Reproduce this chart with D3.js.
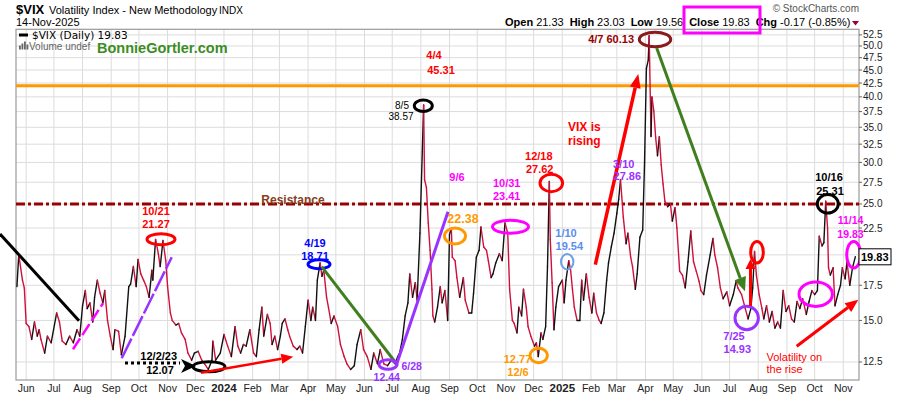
<!DOCTYPE html>
<html>
<head>
<meta charset="utf-8">
<script src="https://cdn.jsdelivr.net/npm/d3@7"></script>
<style>
  body { margin: 0; background: #fff; }
  svg { display: block; font-family: "Liberation Sans", Arial, sans-serif; }
</style>
</head>
<body>
<div id="chart"></div>
<script>
// daily closes, [mm-dd, close]
var vix2023 = [["05-22",17.4],["05-24",20.0],["05-28",17.9],["05-30",17.3],["06-01",14.8],["06-04",14.6],["06-07",13.8],["06-10",14.9],["06-13",14.0],["06-15",14.4],["06-17",13.8],["06-21",13.0],["06-24",14.0],["06-28",13.6],["07-04",15.5],["07-07",14.9],["07-10",13.7],["07-14",13.5],["07-18",14.0],["07-22",13.6],["07-26",14.4],["07-29",14.0],["08-01",16.0],["08-04",17.1],["08-06",15.8],["08-09",16.2],["08-12",14.9],["08-14",16.6],["08-17",17.9],["08-20",16.9],["08-23",16.2],["08-25",17.1],["08-28",15.0],["08-31",14.0],["09-03",13.2],["09-05",14.4],["09-09",14.3],["09-12",12.9],["09-16",14.0],["09-20",17.4],["09-22",17.6],["09-25",19.0],["09-28",17.4],["09-30",19.6],["10-03",18.4],["10-06",17.9],["10-09",17.4],["10-12",16.6],["10-15",18.7],["10-16",17.9],["10-19",21.4],["10-22",20.1],["10-24",19.0],["10-27",21.3],["10-30",19.5],["11-01",17.4],["11-04",15.5],["11-06",15.0],["11-10",14.7],["11-13",14.8],["11-16",14.2],["11-20",13.8],["11-23",13.0],["11-27",12.6],["11-30",13.0],["12-04",13.1],["12-08",12.6],["12-11",12.4],["12-15",12.1],["12-19",12.6],["12-20",13.7],["12-23",12.6],["12-28",13.0]];
var vix2024 = [["01-01",14.1],["01-05",13.4],["01-09",12.8],["01-13",14.6],["01-16",13.4],["01-19",13.0],["01-22",13.5],["01-25",13.4],["01-29",14.4],["02-02",13.0],["02-05",12.8],["02-08",14.4],["02-11",15.9],["02-13",14.0],["02-17",15.4],["02-20",14.8],["02-22",13.5],["02-25",14.0],["02-28",13.2],["03-02",14.0],["03-04",14.8],["03-07",15.1],["03-10",14.4],["03-12",14.0],["03-16",13.4],["03-20",13.2],["03-23",13.4],["03-26",13.0],["03-29",14.6],["04-01",16.4],["04-04",15.0],["04-06",15.9],["04-09",15.0],["04-11",17.9],["04-14",19.3],["04-16",18.2],["04-18",18.7],["04-21",16.6],["04-23",15.9],["04-26",14.8],["04-29",15.3],["05-03",14.6],["05-06",13.5],["05-10",12.8],["05-13",12.4],["05-17",12.1],["05-21",12.3],["05-24",13.5],["05-28",14.4],["05-31",13.2],["06-04",12.8],["06-08",12.1],["06-11",13.0],["06-15",12.4],["06-18",13.2],["06-22",12.4],["06-26",12.3],["06-30",12.6],["07-04",12.4],["07-07",12.8],["07-09",13.0],["07-12",13.8],["07-15",15.3],["07-18",16.2],["07-20",18.4],["07-23",16.6],["07-26",17.7],["07-28",16.4],["07-31",22.0],["08-04",38.6],["08-05",27.8],["08-07",26.9],["08-09",23.0],["08-11",20.4],["08-13",17.2],["08-14",15.3],["08-16",14.9],["08-19",15.9],["08-22",17.4],["08-24",16.2],["08-27",17.1],["08-30",15.0],["09-01",21.9],["09-03",22.4],["09-04",19.8],["09-07",19.5],["09-09",18.1],["09-12",16.6],["09-16",18.1],["09-18",16.4],["09-22",15.5],["09-25",15.5],["09-27",16.9],["09-30",19.8],["10-03",20.4],["10-05",22.6],["10-08",20.7],["10-11",20.4],["10-13",19.5],["10-16",18.1],["10-18",18.4],["10-21",19.3],["10-25",20.1],["10-28",19.5],["10-31",23.0],["11-03",22.0],["11-05",17.2],["11-08",15.0],["11-10",14.8],["11-13",14.2],["11-15",15.9],["11-18",15.3],["11-20",17.2],["11-23",15.9],["11-25",14.6],["11-28",14.0],["12-02",13.4],["12-04",13.6],["12-06",12.8],["12-09",14.2],["12-11",13.8],["12-14",14.6],["12-16",19.0],["12-18",27.6],["12-19",21.4],["12-21",17.7],["12-23",14.4],["12-25",15.9],["12-28",17.4]];
var vix2025 = [["01-01",17.9],["01-03",16.2],["01-05",17.9],["01-08",19.5],["01-10",18.7],["01-12",17.2],["01-14",15.9],["01-17",15.0],["01-20",15.0],["01-22",17.9],["01-24",16.4],["01-27",18.4],["01-30",16.6],["02-02",15.5],["02-04",16.9],["02-07",15.5],["02-10",15.0],["02-12",14.8],["02-15",15.5],["02-18",17.9],["02-20",19.3],["02-23",20.7],["02-26",22.0],["03-01",24.0],["03-03",25.5],["03-05",27.8],["03-08",23.6],["03-11",21.0],["03-13",22.0],["03-16",19.8],["03-18",19.0],["03-21",17.2],["03-23",18.4],["03-26",21.6],["03-29",22.3],["03-31",30.0],["04-02",45.3],["04-04",47.0],["04-05",52.3],["04-07",33.6],["04-08",40.0],["04-10",37.6],["04-12",33.5],["04-14",30.9],["04-16",33.6],["04-18",29.7],["04-20",27.3],["04-22",25.3],["04-25",24.7],["04-28",25.0],["04-30",23.2],["05-03",24.6],["05-05",22.5],["05-08",18.6],["05-11",18.3],["05-14",17.3],["05-17",19.4],["05-20",22.2],["05-23",19.4],["05-26",18.6],["05-29",17.8],["05-31",17.1],["06-03",16.8],["06-06",18.3],["06-10",20.0],["06-13",21.5],["06-15",20.0],["06-18",18.9],["06-21",17.3],["06-24",16.5],["06-28",17.0],["07-01",16.0],["07-05",16.8],["07-08",17.8],["07-10",17.3],["07-14",16.8],["07-18",15.8],["07-21",15.1],["07-24",15.8],["07-26",17.3],["07-28",20.3],["07-30",18.3],["08-02",16.8],["08-05",15.8],["08-07",15.1],["08-10",16.0],["08-13",14.9],["08-16",15.6],["08-19",14.5],["08-22",14.9],["08-25",14.5],["08-28",17.1],["08-31",15.6],["09-03",16.0],["09-06",15.1],["09-09",14.9],["09-12",16.3],["09-15",15.8],["09-18",16.5],["09-22",15.4],["09-25",16.3],["09-28",17.1],["10-01",16.8],["10-04",17.1],["10-06",21.7],["10-09",20.8],["10-11",21.1],["10-13",25.3],["10-15",22.5],["10-16",18.9],["10-18",18.3],["10-21",18.9],["10-23",16.0],["10-26",16.8],["10-29",17.5],["10-31",18.9],["11-03",18.0],["11-05",19.4],["11-08",17.5],["11-11",18.9],["11-14",19.83]];

var yTicks = [12.5,15,17.5,20,22.5,25,27.5,30,32.5,35,37.5,40,42.5,45,47.5,50,52.5];
var quote = [["Open","21.33"],["High","23.03"],["Low","19.56"],["Close","19.83"],["Chg","-0.17 (-0.85%)"]];
var resistanceLevel = 25, orangeLevel = 42, lastClose = 19.83;

var parse = d3.timeParse("%Y-%m-%d");
var data = [];
[[2023, vix2023], [2024, vix2024], [2025, vix2025]].forEach(function(yr) {
  yr[1].forEach(function(d) { data.push({date: parse(yr[0] + "-" + d[0]), value: d[1]}); });
});

var W = 900, H = 396;
var margin = {top: 29.3, right: 41, bottom: 16, left: 16};
var x0 = margin.left, x1 = W - margin.right, yTop = margin.top, yBot = H - margin.bottom;

var svg = d3.select("#chart").append("svg").attr("width", W).attr("height", H);
svg.append("rect").attr("width", W).attr("height", H).attr("fill", "#fff");

var x = d3.scaleTime()
  .domain([new Date(2023, 4, 21), new Date(2025, 10, 18)])
  .range([x0, x1]);
var y = d3.scaleLog()
  .domain([11.55, 53.8])
  .range([yBot, yTop]);

// grid
var months = d3.timeMonth.range(new Date(2023, 5, 1), new Date(2025, 10, 2));
svg.append("g").selectAll("line").data(months).enter().append("line")
  .attr("x1", function(d) { return x(d); }).attr("x2", function(d) { return x(d); })
  .attr("y1", yTop).attr("y2", yBot)
  .attr("stroke", "#dcdcdc").attr("stroke-width", 1);
svg.append("g").selectAll("line").data(yTicks).enter().append("line")
  .attr("x1", x0).attr("x2", x1)
  .attr("y1", function(d) { return y(d); }).attr("y2", function(d) { return y(d); })
  .attr("stroke", "#dcdcdc").attr("stroke-width", 1);

// frame
svg.append("rect").attr("x", x0).attr("y", yTop).attr("width", x1 - x0).attr("height", yBot - yTop)
  .attr("fill", "none").attr("stroke", "#9a9a9a").attr("stroke-width", 1.2);

// right axis (the 20.0 label sits under the last-value box, so it is not written)
var yAxis = svg.append("g").attr("transform", "translate(" + x1 + ",0)");
yTicks.forEach(function(t) {
  yAxis.append("line").attr("x1", 0).attr("x2", 3).attr("y1", y(t)).attr("y2", y(t)).attr("stroke", "#666");
  if (Math.abs(y(t) - y(lastClose)) < 10) return;
  yAxis.append("text").attr("x", 4).attr("y", y(t)).attr("dy", "0.35em")
    .attr("font-size", 10).attr("fill", "#222").text(d3.format(".1f")(t));
});

// bottom axis labels
svg.append("g").selectAll("text").data(months).enter().append("text")
  .attr("x", function(d) { return x(d); })
  .attr("y", 391.5)
  .attr("text-anchor", "middle")
  .attr("font-size", function(d) { return d.getMonth() == 0 ? 11.5 : 10.5; })
  .attr("font-weight", function(d) { return d.getMonth() == 0 ? "bold" : "normal"; })
  .attr("fill", "#222")
  .text(function(d) { return d.getMonth() == 0 ? d.getFullYear() : d3.timeFormat("%b")(d); });

// horizontal levels
svg.append("line").attr("x1", x0).attr("x2", x1).attr("y1", y(orangeLevel)).attr("y2", y(orangeLevel))
  .attr("stroke", "#ff9900").attr("stroke-width", 3);
svg.append("line").attr("x1", x0).attr("x2", x1).attr("y1", y(resistanceLevel)).attr("y2", y(resistanceLevel))
  .attr("stroke", "#990000").attr("stroke-width", 3).attr("stroke-dasharray", "9,3,3,3");

// price line: black on up days, red on down days
var segs = d3.pairs(data);
svg.append("g").selectAll("line").data(segs).enter().append("line")
  .attr("x1", function(d) { return x(d[0].date); })
  .attr("y1", function(d) { return y(d[0].value); })
  .attr("x2", function(d) { return x(d[1].date); })
  .attr("y2", function(d) { return y(d[1].value); })
  .attr("stroke", function(d) { return d[1].value >= d[0].value ? "#111" : "#d0103a"; })
  .attr("stroke-width", 1.4)
  .attr("stroke-linecap", "round");

// hand-drawn annotations
var ann = svg.append("g");

function line(a, b, c, d, col, w, dash) {
  ann.append("line").attr("x1", a).attr("y1", b).attr("x2", c).attr("y2", d)
    .attr("stroke", col).attr("stroke-width", w).attr("stroke-dasharray", dash || null);
}
function arrow(a, b, c, d, col, w, hl, hw) {
  var ang = Math.atan2(d - b, c - a);
  var bx = c - hl * Math.cos(ang), by = d - hl * Math.sin(ang);
  line(a, b, bx, by, col, w);
  var px = -Math.sin(ang) * hw / 2, py = Math.cos(ang) * hw / 2;
  ann.append("path").attr("d", "M" + c + "," + d + "L" + (bx + px) + "," + (by + py) + "L" + (bx - px) + "," + (by - py) + "Z")
    .attr("fill", col);
}
function ell(cx, cy, rx, ry, col, w) {
  ann.append("ellipse").attr("cx", cx).attr("cy", cy).attr("rx", rx).attr("ry", ry)
    .attr("fill", "none").attr("stroke", col).attr("stroke-width", w || 3);
}
function label(t, tx, ty, col, size, weight, anchor) {
  ann.append("text").attr("x", tx).attr("y", ty).attr("dy", "0.35em")
    .attr("text-anchor", anchor || "middle").attr("font-size", size || 11)
    .attr("font-weight", weight || "bold").attr("fill", col).text(t);
}

var RED = "#ff0000", PURPLE = "#9933ff", MAG = "#ff00ff", ORANGE = "#ff9900", GREEN = "#3f7f1f";

line(0, 234, 79, 320.7, "#000", 3);
line(73, 349.3, 103, 303.3, MAG, 2.5, "13,4");
line(121.7, 358.3, 171.7, 257.3, PURPLE, 2.5, "22,3");
ell(161, 239.3, 14, 5.5, RED);
label("10/21", 156, 211, RED);
label("21.27", 156, 224, RED);

line(125, 363, 180, 363, "#000", 3, "3,3");
ann.append("path").attr("d", "M181,359L196,366L181,373L185,366Z").attr("fill", "#000");
ell(209, 366.7, 16, 5, "#000");
label("12/2/23", 158.7, 356.5, "#000");
label("12.07", 160, 370, "#000");
arrow(201, 372.7, 293.3, 356.7, RED, 2.5, 12, 10);

ell(319, 264.3, 11, 4.5, "#0000ff");
label("4/19", 315, 243.5, "#0000ff");
label("18.71", 315, 256.5, "#0000ff");
line(321.7, 266.7, 396.7, 364, GREEN, 3);
line(396.7, 364, 448, 211.7, PURPLE, 3);
ell(388, 364.5, 9, 4.7, PURPLE);
label("6/28", 411.7, 366.7, PURPLE, 10.5);
label("12.44", 386.7, 377, PURPLE, 10.5);

label("Resistance", 293, 200, "#85401a", 12);

ell(423.3, 105.7, 9, 5.7, "#000");
label("8/5", 402, 105.7, "#000", 10, "normal");
label("38.57", 401, 116.5, "#000", 10, "normal");
label("4/4", 434, 55, RED);
label("45.31", 441, 70, RED);

label("9/6", 457, 177.5, MAG);
label("22.38", 463, 218.3, ORANGE, 12.5);
ell(455, 236, 10.5, 8, ORANGE);

ell(510.5, 226.7, 18, 6.5, MAG);
label("10/31", 506.7, 183.3, MAG);
label("23.41", 506.7, 196, MAG);

ell(538.7, 355.5, 8.7, 7.2, ORANGE);
label("12.77", 517.5, 359.3, ORANGE);
label("12/6", 518, 372, ORANGE);

ell(551.3, 183, 11.3, 8.7, RED);
label("12/18", 538.8, 156, RED);
label("27.62", 539.7, 169.5, RED);

ell(567.2, 261.7, 6.2, 7.7, "#6f9fe8", 2);
label("1/10", 566, 233.3, "#5b8def");
label("19.54", 569.3, 246.5, "#5b8def");

arrow(595.3, 264.7, 638.3, 74, RED, 3.5, 14, 11);
label("VIX is", 568, 127, RED, 12, "bold", "start");
label("rising", 568, 141, RED, 12, "bold", "start");

label("3/10", 623.7, 164, PURPLE);
label("27.86", 627.3, 176.5, PURPLE);

label("4/7 60.13", 634, 39.5, "#990000", 11, "bold", "end");
ell(655, 39.5, 15.7, 7.2, "#8b1a1a");
arrow(656.7, 48, 745, 291.3, GREEN, 3, 14, 12);

ell(746.7, 318, 11.7, 11.7, PURPLE);
label("7/25", 734, 336.3, PURPLE);
label("14.93", 737.3, 349, PURPLE);
arrow(750.5, 306, 750.5, 259, RED, 3, 10, 10);
ell(757, 252.2, 6.3, 10.8, RED);

ell(815.7, 294.2, 16.7, 12.2, MAG);
ell(827.8, 203.8, 10.5, 9.2, "#000");
label("10/16", 829, 177, "#000");
label("25.31", 830, 191, "#000");
ell(853.7, 254.7, 7, 13.3, MAG);
label("11/14", 850.5, 220.5, MAG, 10.5);
label("19.83", 850.5, 234.5, MAG, 10.5);

arrow(796.7, 346.3, 858.3, 299.7, RED, 3, 13, 11);
label("Volatility on", 766.5, 357, RED, 11, "normal", "start");
label("the rise", 766.5, 369, RED, 11, "normal", "start");

// last value box
var lb = svg.append("g");
lb.append("rect").attr("x", x1).attr("y", y(lastClose) - 8).attr("width", 32).attr("height", 16)
  .attr("fill", "#fff").attr("stroke", "#000").attr("stroke-width", 1);
lb.append("text").attr("x", x1 + 2).attr("y", y(lastClose)).attr("dy", "0.35em")
  .attr("font-size", 11).attr("font-weight", "bold").text(d3.format(".2f")(lastClose));

// header
svg.append("text").attr("x", 16).attr("y", 14).attr("font-size", 13).attr("font-weight", "bold").text("$VIX");
svg.append("text").attr("x", 49).attr("y", 14).attr("font-size", 11).text("Volatility Index - New Methodology");
svg.append("text").attr("x", 219).attr("y", 14).attr("font-size", 10).text("INDX");
svg.append("text").attr("x", 16).attr("y", 26).attr("font-size", 11).text("14-Nov-2025");
svg.append("text").attr("x", x1).attr("y", 12).attr("text-anchor", "end").attr("font-size", 10)
  .attr("fill", "#555").text("\u00A9 StockCharts.com");

var qt = svg.append("text").attr("x", 505).attr("y", 26).attr("font-size", 11);
quote.forEach(function(q, i) {
  qt.append("tspan").attr("dx", i ? 6 : 0).attr("font-weight", "bold").text(q[0]);
  qt.append("tspan").attr("dx", 3).text(q[1]);
});
svg.append("path").attr("d", "M852,21L859,21L855.5,25.5Z").attr("fill", "#990033");
svg.append("rect").attr("x", 684).attr("y", 7).attr("width", 76).attr("height", 26)
  .attr("fill", "none").attr("stroke", "#ff00ff").attr("stroke-width", 3);

// legend inside plot
svg.append("line").attr("x1", 19).attr("x2", 28).attr("y1", 35).attr("y2", 35).attr("stroke", "#000").attr("stroke-width", 3);
svg.append("text").attr("x", 32).attr("y", 38.5).attr("font-family", "DejaVu Sans").attr("font-size", 10.5)
  .text("$VIX (Daily) 19.83");
[[19, 4], [21.5, 6], [24, 8], [26.5, 5]].forEach(function(b) {
  svg.append("rect").attr("x", b[0]).attr("y", 49.5 - b[1]).attr("width", 1.8).attr("height", b[1]).attr("fill", "#666");
});
svg.append("text").attr("x", 29).attr("y", 49.5).attr("font-size", 10)
  .attr("fill", "#666").text("Volume undef");
svg.append("text").attr("x", 97).attr("y", 53).attr("font-size", 14.5).attr("font-weight", "bold")
  .attr("fill", "#3c8d1f").text("BonnieGortler.com");
</script>
</body>
</html>
